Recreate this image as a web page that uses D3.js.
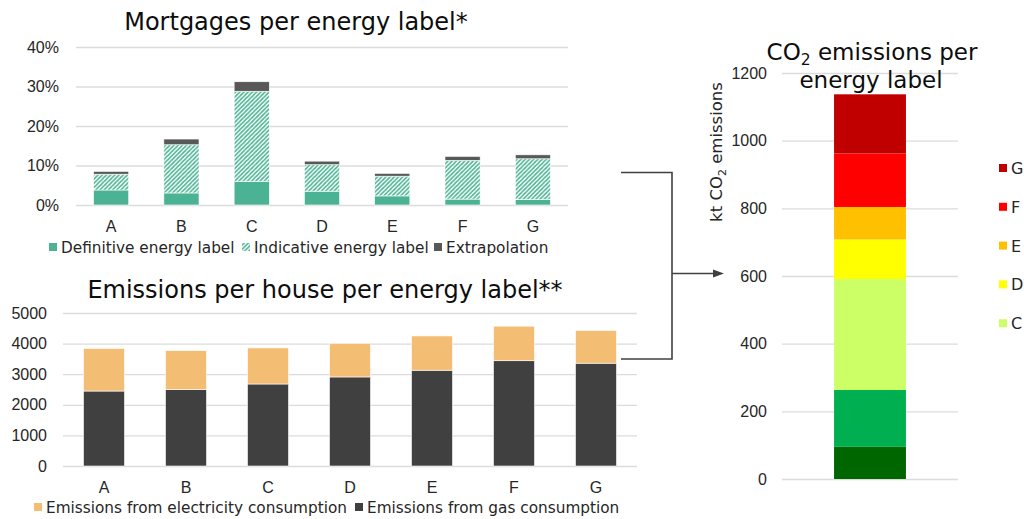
<!DOCTYPE html>
<html><head><meta charset="utf-8">
<script src="https://cdn.jsdelivr.net/npm/d3@7/dist/d3.min.js"></script>
<style>
html,body{margin:0;padding:0;background:#fff;}
svg{display:block;font-family:"DejaVu Sans",Verdana,sans-serif;}
</style></head><body>
<svg id="c" width="1024" height="519"></svg>
<script>
// ---------- data ----------
const labels = ["A","B","C","D","E","F","G"];
// Mortgages per energy label (% of mortgages), stacked segments
const definitive    = [3.8, 3.05, 5.9, 3.5, 2.3, 1.5, 1.4];
const indicative    = [4.0, 12.2, 22.9, 6.7, 5.0, 9.8, 10.3];
const extrapolation = [0.7, 1.45, 2.4, 0.9, 0.7, 1.0, 1.0];
const pctTicks = [0, 10, 20, 30, 40];
// Emissions per house per energy label
const gasEmissions  = [2450, 2500, 2680, 2910, 3130, 3440, 3360];
const elecEmissions = [1390, 1270, 1180, 1100, 1120, 1130, 1070];
const houseTicks = [0, 1000, 2000, 3000, 4000, 5000];
// CO2 emissions per energy label (kt), stacked bottom (A) to top (G)
const co2Labels = ["A","B","C","D","E","F","G"];
const co2Values = [95, 168, 328, 117, 96, 158, 175];
const co2Ticks = [0, 200, 400, 600, 800, 1000, 1200];
const co2LegendLabels = ["G","F","E","D","C"];

// ---------- styles ----------
const teal = "#4bb394", darkGrey = "#585858";
const elecColor = "#f4bd74", gasColor = "#404040";
const co2Colors = {A:"#006600",B:"#00b050",C:"#ccff66",D:"#ffff00",E:"#ffc000",F:"#ff0000",G:"#c00000"};
const gridColor = "#dcdcdc", textColor = "#262626", titleColor = "#0d0d0d";
const tickFont = "16px", legendFont = "15.3px", titleFont = "24px";

const svg = d3.select("#c");
const defs = svg.append("defs");
const pat = defs.append("pattern").attr("id","hatch").attr("patternUnits","userSpaceOnUse")
  .attr("width",4.2).attr("height",4.2);
pat.append("rect").attr("width",4.2).attr("height",4.2).attr("fill","#fff");
pat.append("path").attr("d","M-1,1.1 l2.1,-2.1 M0,4.2 l4.2,-4.2 M3.2,5.3 l2.1,-2.1")
  .attr("stroke",teal).attr("stroke-width",1.6);

function gridAxis(g, y, ticks, width, fmt, pad){
  g.call(d3.axisLeft(y).tickValues(ticks).tickSize(-width).tickPadding(pad).tickFormat(fmt));
  g.select(".domain").remove();
  g.selectAll(".tick line").attr("stroke",gridColor).attr("stroke-width",1.3);
  g.selectAll(".tick text").attr("fill",textColor).style("font-size",tickFont);
}
function catAxis(g, x, pad){
  g.call(d3.axisBottom(x).tickSize(0).tickPadding(pad));
  g.select(".domain").remove();
  g.selectAll(".tick text").attr("fill",textColor).style("font-size",tickFont);
}

// ---------- chart 1: mortgages ----------
{
  const x = d3.scaleBand().domain(labels).range([76,568]).paddingInner(0.5).paddingOuter(0.25);
  const y = d3.scaleLinear().domain([0,40]).range([205,47]);
  const g = svg.append("g");
  g.append("g").attr("transform","translate(76,0)")
    .call(gg=>gridAxis(gg,y,pctTicks,492,d=>d+"%",17));
  const rows = labels.map((l,i)=>({label:l, definitive:definitive[i], indicative:indicative[i], extrapolation:extrapolation[i]}));
  const keys = ["definitive","indicative","extrapolation"];
  const fills = {definitive:teal, indicative:"url(#hatch)", extrapolation:darkGrey};
  const stack = d3.stack().keys(keys)(rows);
  g.selectAll("g.s").data(stack).join("g").attr("fill",s=>fills[s.key])
    .selectAll("rect").data(s=>s).join("rect")
    .attr("x",d=>x(d.data.label)).attr("width",x.bandwidth())
    .attr("y",d=>y(d[1])).attr("height",d=>y(d[0])-y(d[1]))
    .attr("stroke","#fff").attr("stroke-width",0.6);
  g.append("g").attr("transform","translate(0,205)").call(gg=>catAxis(gg,x,16));
  g.append("text").attr("x",296).attr("y",30).attr("text-anchor","middle")
    .attr("fill",titleColor).style("font-size",titleFont).text("Mortgages per energy label*");
  const leg = [{t:"Definitive energy label",f:teal,x:49},{t:"Indicative energy label",f:"url(#hatch)",x:242},{t:"Extrapolation",f:darkGrey,x:434}];
  const lg = g.append("g").selectAll("g").data(leg).join("g");
  lg.append("rect").attr("x",d=>d.x).attr("y",243).attr("width",8).attr("height",8).attr("fill",d=>d.f);
  lg.append("text").attr("x",d=>d.x+12).attr("y",253).attr("fill",textColor).style("font-size",legendFont).text(d=>d.t);
}

// ---------- chart 2: emissions per house ----------
{
  const x = d3.scaleBand().domain(labels).range([63,637]).paddingInner(0.5).paddingOuter(0.25);
  const y = d3.scaleLinear().domain([0,5000]).range([466,313]);
  const g = svg.append("g");
  g.append("g").attr("transform","translate(63,0)")
    .call(gg=>gridAxis(gg,y,houseTicks,574,d=>d,16));
  const rows = labels.map((l,i)=>({label:l, gas:gasEmissions[i], elec:elecEmissions[i]}));
  const keys = ["gas","elec"];
  const fills = {gas:gasColor, elec:elecColor};
  const stack = d3.stack().keys(keys)(rows);
  g.selectAll("g.s").data(stack).join("g").attr("fill",s=>fills[s.key])
    .selectAll("rect").data(s=>s).join("rect")
    .attr("x",d=>x(d.data.label)).attr("width",x.bandwidth())
    .attr("y",d=>y(d[1])).attr("height",d=>y(d[0])-y(d[1]))
    .attr("stroke","#fff").attr("stroke-width",0.6);
  g.append("g").attr("transform","translate(0,466)").call(gg=>catAxis(gg,x,16));
  g.append("text").attr("x",325).attr("y",298).attr("text-anchor","middle")
    .attr("fill",titleColor).style("font-size",titleFont).text("Emissions per house per energy label**");
  const leg = [{t:"Emissions from electricity consumption",f:elecColor,x:34},{t:"Emissions from gas consumption",f:gasColor,x:355}];
  const lg = g.append("g").selectAll("g").data(leg).join("g");
  lg.append("rect").attr("x",d=>d.x).attr("y",503).attr("width",8).attr("height",8).attr("fill",d=>d.f);
  lg.append("text").attr("x",d=>d.x+12).attr("y",513).attr("fill",textColor).style("font-size",legendFont).text(d=>d.t);
}

// ---------- connector ----------
{
  const g = svg.append("g").attr("stroke","#404040").attr("stroke-width",1.6).attr("fill","none");
  g.append("path").attr("d","M621,172.5H672V359H621");
  g.append("path").attr("d","M672,273.5H714");
  svg.append("path").attr("d","M724,273.5L713,269.5V277.5Z").attr("fill","#404040");
}

// ---------- chart 3: CO2 emissions ----------
{
  const x = d3.scaleBand().domain(["total"]).range([782,958]).padding(0.42);
  const y = d3.scaleLinear().domain([0,1200]).range([479,73]);
  const g = svg.append("g");
  g.append("g").attr("transform","translate(782,0)")
    .call(gg=>gridAxis(gg,y,co2Ticks,176,d=>d,15));
  const row = {}; co2Labels.forEach((l,i)=>row[l]=co2Values[i]);
  const stack = d3.stack().keys(co2Labels)([row]);
  g.selectAll("rect.seg").data(stack).join("rect").attr("class","seg")
    .attr("x",x("total")).attr("width",x.bandwidth())
    .attr("y",s=>y(s[0][1])).attr("height",s=>y(s[0][0])-y(s[0][1]))
    .attr("fill",s=>co2Colors[s.key]);
  const t = g.append("text").attr("x",872).attr("y",60).attr("text-anchor","middle")
    .attr("fill",titleColor).style("font-size","23px");
  t.append("tspan").text("CO");
  t.append("tspan").attr("dy",5).style("font-size","15.5px").text("2");
  t.append("tspan").attr("dy",-5).text(" emissions per");
  g.append("text").attr("x",871).attr("y",88).attr("text-anchor","middle")
    .attr("fill",titleColor).style("font-size","23px").text("energy label");
  const at = g.append("text").attr("transform","translate(722,152) rotate(-90)").attr("text-anchor","middle")
    .attr("fill",textColor).style("font-size","16.5px");
  at.append("tspan").text("kt CO");
  at.append("tspan").attr("dy",4).style("font-size","11px").text("2");
  at.append("tspan").attr("dy",-4).text(" emissions");
  const lg = g.append("g").selectAll("g").data(co2LegendLabels).join("g")
    .attr("transform",(d,i)=>`translate(999,${168+i*38.8})`);
  lg.append("rect").attr("x",0).attr("y",-4).attr("width",8).attr("height",8).attr("fill",d=>co2Colors[d]);
  lg.append("text").attr("x",12).attr("y",6).attr("fill",textColor).style("font-size","16px").text(d=>d);
}
</script>
</body></html>
